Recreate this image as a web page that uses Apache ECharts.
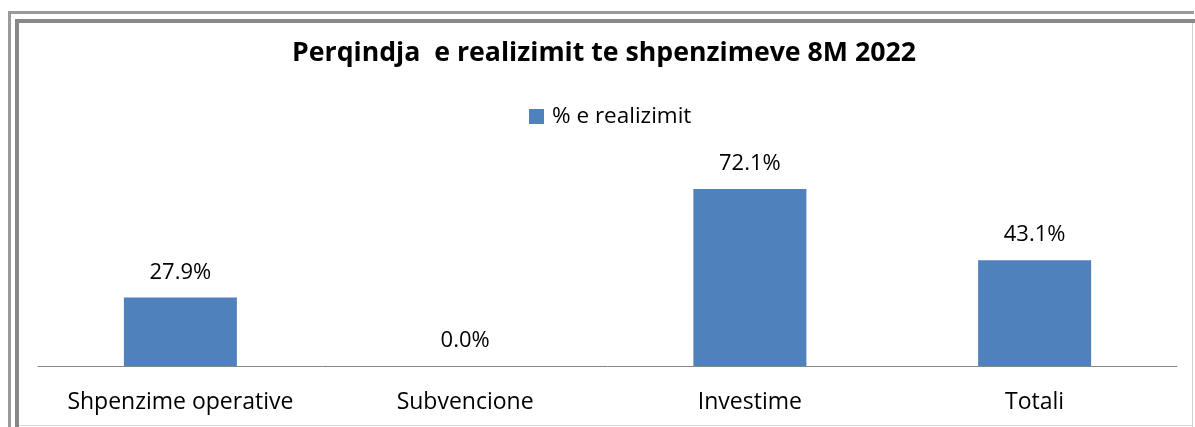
<!DOCTYPE html>
<html><head><meta charset="utf-8">
<script src="https://cdn.jsdelivr.net/npm/echarts@6/dist/echarts.min.js"></script>
<style>html,body{margin:0;padding:0;background:#fff}#c{width:1195px;height:427px}</style>
</head><body><div id="c"></div>
<script>
const categories = ['Shpenzime operative', 'Subvencione', 'Investime', 'Totali'];
const values = [27.9, 0.0, 72.1, 43.1];
const seriesName = '% e realizimit';
const titleText = 'Perqindja  e realizimit te shpenzimeve 8M 2022';

const chart = echarts.init(document.getElementById('c'));
const FONT = 'Open Sans';
chart.setOption({
  animation: false,
  backgroundColor: '#fff',
  title: {
    text: titleText, left: 292, top: 40, padding: 0,
    textStyle: {fontFamily: FONT, fontWeight: 'bold', fontSize: 26.7, color: '#000'}
  },
  legend: {
    data: [seriesName], left: 524, top: 100, itemWidth: 15, itemHeight: 15, itemGap: 4,
    textStyle: {fontFamily: FONT, fontSize: 22.5, color: '#000', padding: [0, 0, 0, 3]}, icon: 'rect'
  },
  grid: {left: 38, right: 18, top: 169.6, bottom: 61, containLabel: false},
  xAxis: {
    type: 'category', data: categories,
    axisLine: {lineStyle: {color: '#868686', width: 1}},
    axisTick: {show: false},
    axisLabel: {interval: 0, fontFamily: FONT, fontSize: 23, color: '#000', margin: 25}
  },
  yAxis: {type: 'value', min: 0, max: 80, show: false, splitLine: {show: false}},
  series: [{
    name: seriesName, type: 'bar', data: values, barWidth: 113,
    itemStyle: {color: '#4f81bd'},
    label: {show: true, position: 'top', distance: 14, fontFamily: FONT, fontSize: 22, color: '#000',
      formatter: p => p.value.toFixed(1) + '%'}
  }],
  graphic: [
    {type: 'rect', shape: {x: 8, y: 11, width: 1186, height: 3}, style: {fill: '#9a9a9a'}},
    {type: 'rect', shape: {x: 8, y: 11, width: 3, height: 420}, style: {fill: '#9a9a9a'}},
    {type: 'rect', shape: {x: 15, y: 19, width: 1180, height: 4}, style: {fill: '#888'}},
    {type: 'rect', shape: {x: 15, y: 19, width: 4, height: 410}, style: {fill: '#888'}},
    {type: 'rect', shape: {x: 1192, y: 23, width: 1, height: 404}, style: {fill: '#d0d0d0'}},
    {type: 'rect', shape: {x: 19, y: 425, width: 1174, height: 1}, style: {fill: '#d8d8d8'}}
  ]
});
</script></body></html>
